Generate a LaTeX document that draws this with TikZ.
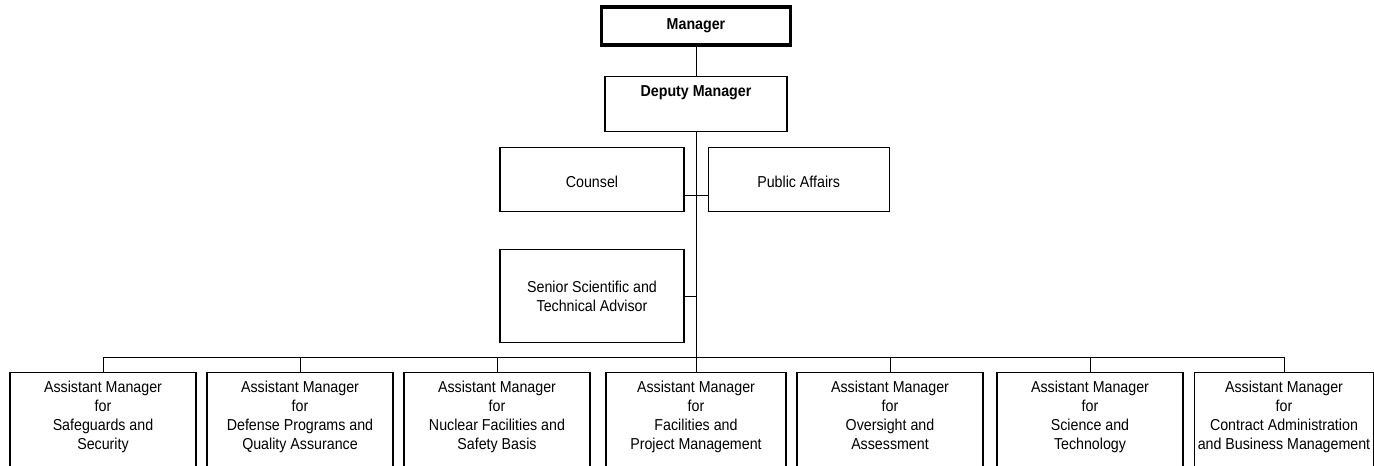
\documentclass[tikz,border=0pt]{standalone}
\usepackage{fontspec}
\setmainfont{Liberation Sans}[FakeStretch=0.9]
\usepackage{tikz}
\usetikzlibrary{positioning}

\begin{document}
\begin{tikzpicture}[
    x=0.02cm, y=-0.02cm,
    font=\fontsize{9}{10.8}\selectfont,
    box/.style={
        rectangle,
        draw=black,
        line width=0.7pt,
        align=center,
        inner xsep=2pt
    },
    head/.style={box, line width=1.8pt, minimum width=3.78cm, minimum height=0.76cm, font=\fontsize{9}{10.8}\selectfont\bfseries},
    deputy/.style={box, minimum width=3.64cm, text height=0.4cm, text depth=0.7cm, inner ysep=0pt, font=\fontsize{9}{10.8}\selectfont\bfseries},
    staff/.style={box, minimum width=3.68cm, text height=0.8cm, text depth=0.48cm, inner ysep=0pt},
    assistant/.style={box, anchor=north, minimum width=3.72cm, inner ysep=4.8pt, text depth=0.5cm},
    link/.style={line width=0.5pt}
]
\useasboundingbox (0,0) rectangle (1374,466);

% Management
\node[head] (manager) at (696,26) {Manager};
\node[deputy, anchor=north] (deputy) at (696,76) {Deputy Manager};

% Staff offices
\node[staff, anchor=north] (counsel) at (592,147) {Counsel};
\node[staff, minimum width=3.62cm, right=0.46cm of counsel] (public) {Public Affairs};
\node[box, minimum width=3.68cm, minimum height=1.86cm] (advisor) at (592,296) {Senior Scientific and\\Technical Advisor};

% Assistant managers
\node[assistant] (am1) at (103,372) {Assistant Manager\\for\\Safeguards and\\Security};
\node[assistant] (am2) at (300,372) {Assistant Manager\\for\\Defense Programs and\\Quality Assurance};
\node[assistant] (am3) at (497,372) {Assistant Manager\\for\\Nuclear Facilities and\\Safety Basis};
\node[assistant, minimum width=3.6cm] (am4) at (696,372) {Assistant Manager\\for\\Facilities and\\Project Management};
\node[assistant] (am5) at (890,372) {Assistant Manager\\for\\Oversight and\\Assessment};
\node[assistant] (am6) at (1090,372) {Assistant Manager\\for\\Science and\\Technology};
\node[assistant, minimum width=3.56cm] (am7) at (1284,372) {Assistant Manager\\for\\Contract Administration\\and Business Management};

% Line of command
\draw[link] (manager) -- (deputy);
\draw[link] (deputy) -- (am4);
\draw[link] ([yshift=-0.32cm]counsel.east) -- ([yshift=-0.32cm]counsel.east -| deputy.south);
\draw[link] ([yshift=-0.32cm]public.west) -- ([yshift=-0.32cm]public.west -| deputy.south);
\draw[link] (advisor.east) -- (advisor.east -| deputy.south);

% Bus to assistant managers
\coordinate (bus) at (696,357);
\foreach \i in {1,...,7}
    \draw[link] (am\i.north) |- (bus);

\end{tikzpicture}
\end{document}
